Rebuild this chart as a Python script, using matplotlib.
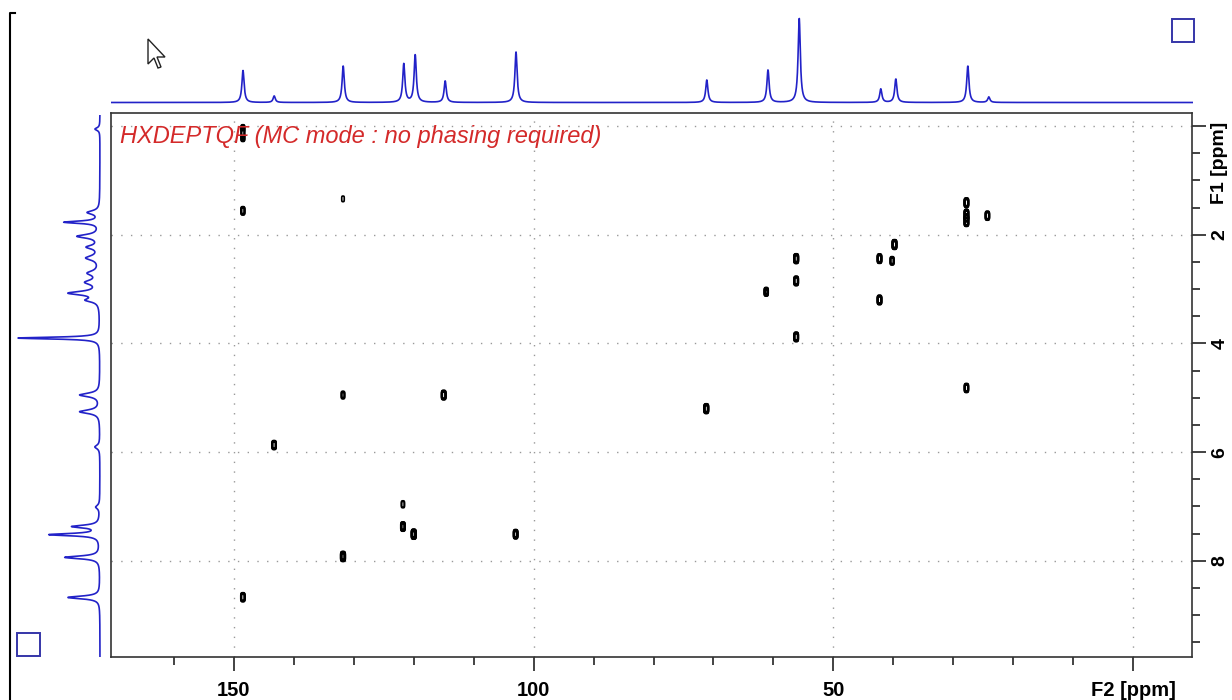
import numpy as np
import matplotlib
matplotlib.use("Agg")
import matplotlib.pyplot as plt
from matplotlib.patches import Rectangle, Polygon
from matplotlib.lines import Line2D

W, H = 1232, 700

# F2 (13C) projection peaks: ppm, height
f2_ppm = [148.5, 143.3, 131.8, 121.7, 119.8, 114.8, 103.0, 71.2, 61.0, 55.8, 42.2, 39.7, 27.7, 24.2]
f2_height = [32, 6.5, 36.5, 38.5, 47.5, 21.5, 50.5, 22.5, 32.5, 84.5, 13.5, 23.5, 36.5, 5.5]

# F1 (1H) projection peaks: ppm, height, half width
f1_ppm = [0.02, 1.56, 1.74, 2.00, 2.20, 2.40, 2.68, 2.85, 3.05, 3.18, 3.88, 4.93, 5.24, 5.89, 7.00, 7.36, 7.51, 7.93, 8.67]
f1_height = [5, 12, 35, 22, 12, 13, 11, 13, 30, 12, 82, 20, 20, 5, 4, 27, 50, 35, 32]
f1_width = [0.03, 0.04, 0.025, 0.04, 0.04, 0.05, 0.05, 0.05, 0.04, 0.04, 0.02, 0.04, 0.04, 0.04, 0.04, 0.03, 0.025, 0.03, 0.03]

# cross peaks: F2 ppm, F1 ppm, intensity
cp_f2 = [148.5, 148.5, 148.5, 131.8, 131.8, 115.0, 143.3, 121.8, 121.8, 120.0, 103.0, 131.8, 148.5,
         71.2, 56.2, 56.2, 61.2, 56.2, 42.3, 42.3, 39.8, 40.2, 27.8, 27.8, 27.8, 24.3, 27.8]
cp_f1 = [0.05, 0.21, 1.56, 1.34, 4.95, 4.95, 5.87, 6.96, 7.37, 7.51, 7.51, 7.92, 8.67,
         5.20, 2.44, 2.85, 3.05, 3.88, 2.44, 3.20, 2.18, 2.48, 1.41, 1.62, 1.76, 1.65, 4.82]
cp_int = [1.8, 1.8, 2.0, 1.15, 1.6, 3.0, 2.5, 1.4, 2.8, 4.0, 2.8, 4.0, 2.5,
          3.5, 3.5, 3.0, 2.2, 3.0, 3.0, 3.0, 3.5, 2.0, 3.0, 3.0, 3.0, 2.5, 2.5]

x_lim = (170.5, -9.83)
y_lim = (9.77, -0.24)

blue = '#2222c8'
font = 'Liberation Sans'


def fx(px):
    return px / W


def fy(py):
    return 1 - py / H


fig = plt.figure(figsize=(W / 100, H / 100), dpi=100)
fig.patch.set_facecolor('white')

# main 2D plot
ax = fig.add_axes([fx(111), fy(657), fx(1192) - fx(111), fy(113) - fy(657)])
xs = np.linspace(x_lim[0], x_lim[1], 2200)
ys = np.linspace(y_lim[1], y_lim[0], 1100)
Z = np.zeros((len(ys), len(xs)))
for a, b, c in zip(cp_f2, cp_f1, cp_int):
    Z += c * np.outer(np.exp(-((ys - b) / 0.085) ** 4), np.exp(-((xs - a) / 0.36) ** 4))
levels = [1.0, 1.2, 1.45, 1.75, 2.1, 2.5, 3.0, 3.6]
ax.contour(xs, ys, Z, levels=levels, colors='black', linewidths=1.2)

ax.set_xlim(*x_lim)
ax.set_ylim(*y_lim)
ax.set_xticks([150, 100, 50, 0])
ax.set_xticklabels(['150', '100', '50', 'F2 [ppm]'])
ax.set_xticks(np.arange(160, -10, -10), minor=True)
ax.yaxis.tick_right()
ax.set_yticks([0, 2, 4, 6, 8])
ax.set_yticklabels(['', '2', '4', '6', '8'])
ax.set_yticks(np.arange(0, 9.6, 0.5), minor=True)
ax.tick_params(axis='x', which='major', length=10, width=1.2, color='#222222', pad=7)
ax.tick_params(axis='y', which='major', length=10, width=1.2, color='#222222', pad=4)
ax.tick_params(which='minor', length=6, width=1.2, color='#222222')
for lab in ax.get_xticklabels():
    lab.set_fontfamily(font)
    lab.set_fontweight('bold')
    lab.set_fontsize(14.5)
for lab in ax.get_yticklabels():
    lab.set_fontfamily(font)
    lab.set_fontweight('bold')
    lab.set_fontsize(14)
    lab.set_rotation(90)
    lab.set_va('center')
for s in ax.spines.values():
    s.set_color('#333333')
    s.set_linewidth(1.2)
ax.grid(True, which='major', color='#999999', linestyle=(0, (1, 6)), linewidth=1.0)
ax.text(0.008, 0.956, 'HXDEPTQF (MC mode : no phasing required)', transform=ax.transAxes,
        color='#d42a2a', fontsize=17, fontstyle='italic', fontfamily=font, va='center', ha='left')

fig.text(fx(1219), fy(163), 'F1 [ppm]', rotation=90, ha='center', va='center',
         fontsize=14, fontweight='bold', fontfamily=font)

# top projection (F2)
axt = fig.add_axes([fx(111), fy(105), fx(1193) - fx(111), fy(15) - fy(105)])
px = np.linspace(x_lim[0], x_lim[1], 4000)
top = np.zeros_like(px)
for p, h in zip(f2_ppm, f2_height):
    top += h / (1 + ((px - p) / 0.22) ** 2)
axt.plot(px, top, color=blue, lw=1.2)
axt.set_xlim(*x_lim)
axt.set_ylim(-2.5, 87.5)
axt.axis('off')

# left projection (F1)
axl = fig.add_axes([fx(12), fy(657), fx(111) - fx(12), fy(115) - fy(657)])
py = np.linspace(y_lim[1], y_lim[0], 3000)
left = np.zeros_like(py)
for p, h, w in zip(f1_ppm, f1_height, f1_width):
    left += h / (1 + ((py - p) / w) ** 2)
axl.plot(left, py, color=blue, lw=1.2)
axl.set_xlim(88, -11)
axl.set_ylim(*y_lim)
axl.axis('off')

# decorations from the screenshot
fig.patches.append(Rectangle((fx(1172), fy(42)), fx(22), 23 / H, transform=fig.transFigure,
                             fill=False, edgecolor='#3535a8', lw=1.4))
fig.patches.append(Rectangle((fx(17), fy(656)), fx(23), 23 / H, transform=fig.transFigure,
                             fill=False, edgecolor='#3535a8', lw=1.4))
fig.lines.append(Line2D([fx(10), fx(10), fx(15)], [fy(700), fy(13), fy(13)],
                        transform=fig.transFigure, color='black', lw=1.5))
cursor = [(0, 0), (0, 25), (6, 19), (10, 29), (13, 28), (9, 18), (17, 18)]
fig.patches.append(Polygon([(fx(148 + a), fy(39 + b)) for a, b in cursor], closed=True,
                           transform=fig.transFigure, facecolor='white', edgecolor='#222222', lw=1.0))

fig.savefig('out.png', dpi=100, facecolor='white')
